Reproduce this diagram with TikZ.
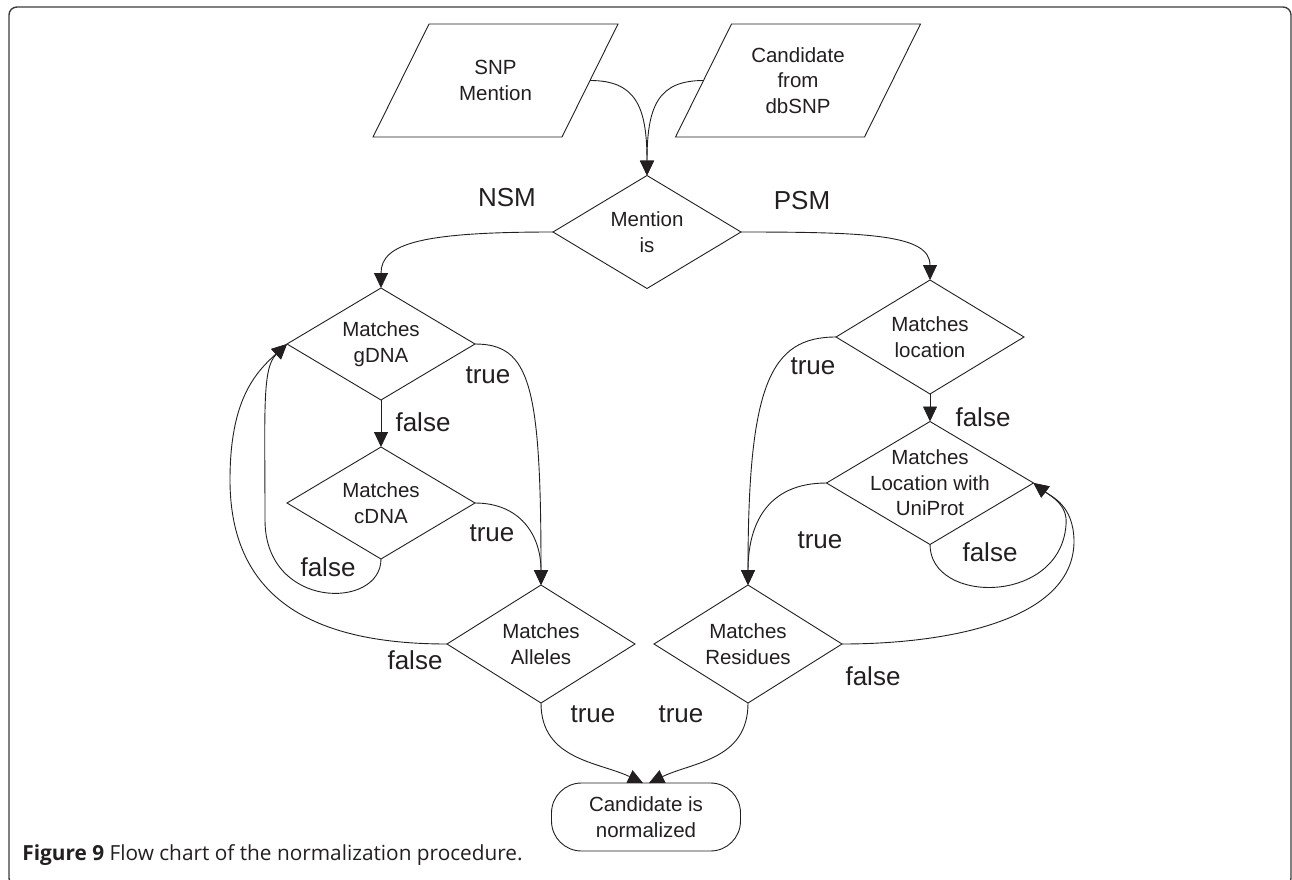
\documentclass[tikz,border=0pt]{standalone}
\usepackage{fontspec}
\setmainfont{Liberation Sans}
\newfontfamily\capfont{Open Sans}
\usetikzlibrary{shapes.geometric,arrows.meta}
\definecolor{ink}{RGB}{35,31,32}
\definecolor{framegray}{RGB}{60,60,60}

\begin{document}
\begin{tikzpicture}[x=1pt,y=1pt,color=ink,line width=0.9pt,
		>={Triangle[length=15pt,width=14pt]},
		io/.style={rectangle,minimum width=189pt,minimum height=113pt,
			inner sep=0pt,outer sep=0pt,align=center,font=\fontsize{20.5}{25.5}\selectfont},
		decision/.style={draw,diamond,aspect=1.68,minimum width=188pt,minimum height=112pt,
			inner sep=-10pt,outer sep=0pt,align=center,font=\fontsize{20.5}{25.5}\selectfont},
		terminal/.style={draw,rectangle,rounded corners=30pt,minimum width=189pt,minimum height=68pt,
			inner sep=0pt,outer sep=0pt,align=center,font=\fontsize{20.5}{26}\selectfont},
		lab/.style={inner sep=0pt,font=\fontsize{26}{30}\selectfont}]
		\useasboundingbox (0,0) rectangle (1292,-880);
		\draw[framegray,line width=1.4pt,rounded corners=8pt] (9,-7) rectangle (1291,-886);

		\node[io] at (495.5,-80.5)(snp){SNP\\Mention};
		\node[io] at (798,-80.5)(cand){Candidate\\from\\dbSNP};
		% input parallelograms
		\draw ([xshift=-28pt]snp.south west) -- ([xshift=28pt]snp.north west) -- ([xshift=28pt]snp.north east) -- ([xshift=-28pt]snp.south east) -- cycle;
		\draw ([xshift=-28pt]cand.south west) -- ([xshift=28pt]cand.north west) -- ([xshift=28pt]cand.north east) -- ([xshift=-28pt]cand.south east) -- cycle;

		\node[decision,minimum height=113pt] at (647,-232)(mention){Mention\\is};
		\node[lab] at (507,-198)(nsm){NSM};
		\node[lab] at (802,-201)(psm){PSM};

		% NSM side
		\node[decision] at (381,-344)(gdna){Matches\\gDNA};
		\node[decision] at (381,-503)(cdna){Matches\\cDNA};
		\node[decision,minimum height=118pt] at (541,-644)(alleles){Matches\\Alleles};

		% PSM side
		\node[decision,minimum height=114pt] at (930,-337)(loc){Matches\\location};
		\node[decision,minimum width=207pt,minimum height=123pt] at (930,-483)(uni){Matches\\Location with\\UniProt};
		\node[decision,minimum height=118pt] at (748,-644)(res){Matches\\Residues};

		\node[terminal] at (646,-817)(norm){Candidate is\\normalized};

		\draw[->](snp.east) .. controls +(45,0) and +(0,70) .. (mention.north);
		\draw[->](cand.west) .. controls +(-45,0) and +(0,70) .. (mention.north);
		\draw[->](mention.west) .. controls +(-130,0) and +(0,45) .. (gdna.north);
		\draw[->](mention.east) .. controls +(130,0) and +(0,45) .. (loc.north);

		\draw[->](gdna.south) -- (cdna.north);
		\draw[->](gdna.east) .. controls +(55,0) and +(0,200) .. (alleles.north);
		\draw[->](cdna.east) .. controls +(45,0) and +(0,50) .. (alleles.north);
		\draw[->](cdna.south) .. controls +(0,-51) and +(0,-90) .. (265,-520) .. controls +(0,110) and (262,-368) .. (gdna.west);
		\draw[->](alleles.west) .. controls +(-117,0) and +(0,-130) .. (230,-480) .. controls +(0,80) and (255,-373) .. (gdna.west);
		\draw[->](alleles.south) .. controls +(0,-57) and +(-44,21) .. ([xshift=-3pt]norm.north);

		\draw[->](loc.south) -- (uni.north);
		\draw[->](loc.west) .. controls +(-66,0) and +(0,200) .. (res.north);
		\draw[->](uni.west) .. controls +(-60,0) and +(0,60) .. (res.north);
		\draw[->](uni.south) .. controls +(0,-60) and +(-6,-80) .. (1066,-525) .. controls +(2,20) and (1052,-497) .. (uni.east);
		\draw[->](res.east) .. controls +(107,0) and +(1,-80) .. (1074,-540) .. controls +(-1,35) and (1052,-497) .. (uni.east);
		\draw[->](res.south) .. controls +(0,-57) and +(44,21) .. ([xshift=3pt]norm.north);

		\node[lab] at (488,-375)(t1){true};
		\node[lab] at (423,-422)(f1){false};
		\node[lab] at (492,-533)(t2){true};
		\node[lab] at (328,-567)(f2){false};
		\node[lab] at (415,-660)(f3){false};
		\node[lab] at (593,-714)(t3){true};
		\node[lab] at (681,-714)(t4){true};
		\node[lab] at (873,-676)(f4){false};
		\node[lab] at (813,-366)(t5){true};
		\node[lab] at (983,-417)(f5){false};
		\node[lab] at (820,-540)(t6){true};
		\node[lab] at (990,-552)(f6){false};

		\node[anchor=west,inner sep=0pt,font=\capfont\fontsize{20.8}{25}\selectfont] at (22,-855)(cap){\textbf{Figure 9} Flow chart of the normalization procedure.};
	\end{tikzpicture}
\end{document}
